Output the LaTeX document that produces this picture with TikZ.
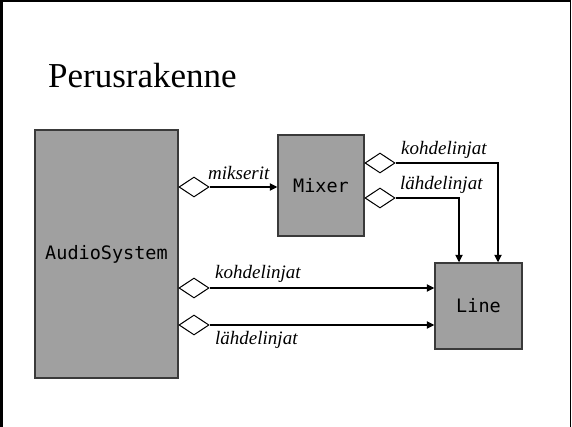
\documentclass[tikz,border=0pt]{standalone}
\usepackage{fontspec}
\setmainfont{Liberation Serif}
\newfontfamily\codefont{DejaVu Sans Mono}
\usetikzlibrary{shapes.geometric,arrows.meta}
\definecolor{boxgray}{HTML}{A0A0A0}
\definecolor{boxedge}{HTML}{3A3A3A}
\begin{document}
\begin{tikzpicture}[x=1pt,y=-1pt,
 cls/.style={draw=boxedge,line width=1.2pt,fill=boxgray,inner sep=0pt,font=\codefont\fontsize{18.5}{20}\selectfont},
 port/.style={diamond,draw=black,line width=1pt,fill=white,minimum width=30pt,minimum height=20pt,inner sep=0pt,anchor=west},
 conn/.style={line width=2pt,-{Triangle[length=7.5pt,width=7pt]}},
 lbl/.style={font=\itshape\fontsize{19}{22}\selectfont,inner sep=0pt,anchor=base west}]
\useasboundingbox (0,0) rectangle (572,427);
% frame
\draw[line width=2.5pt] (1.25,428) -- (1.25,1.25) -- (571,1.25);
\draw[line width=1.5pt] (570.5,0) -- (570.5,428);
% title
\node[anchor=base west,inner sep=0pt,font=\fontsize{35}{40}\selectfont] (title) at (48,88) {Perusrakenne};
% classes
\node[cls,minimum width=143pt,minimum height=248pt] (as) at (106.5,254) {AudioSystem};
\node[cls,minimum width=86pt,minimum height=101pt] (mx) at (321,185.5) {Mixer};
\node[cls,minimum width=87pt,minimum height=86pt] (ln) at (478.5,306) {Line};
% ports
\node[port] (p1) at (178.5,187) {};
\node[port] (p2) at (178.5,288) {};
\node[port] (p3) at (178.5,325) {};
\node[port] (p4) at (364.5,163) {};
\node[port] (p5) at (364.5,198) {};
% targets on Line
\path (ln.north) ++(19.5,0) coordinate (lnA);
\path (ln.north) ++(-19.5,0) coordinate (lnB);
% connectors
\draw[conn] (p1.east) -- (p1.east -| mx.west);
\draw[conn] (p2.east) -- (p2.east -| ln.west);
\draw[conn] (p3.east) -- (p3.east -| ln.west);
\draw[conn] (p4.east) -| (lnA);
\draw[conn] (p5.east) -| (lnB);
% labels
\node[lbl] (l1) at (208,180) {mikserit};
\node[lbl] (l2) at (401,155) {kohdelinjat};
\node[lbl] (l3) at (400,190) {lähdelinjat};
\node[lbl] (l4) at (215,278) {kohdelinjat};
\node[lbl] (l5) at (215,344) {lähdelinjat};
\end{tikzpicture}
\end{document}
